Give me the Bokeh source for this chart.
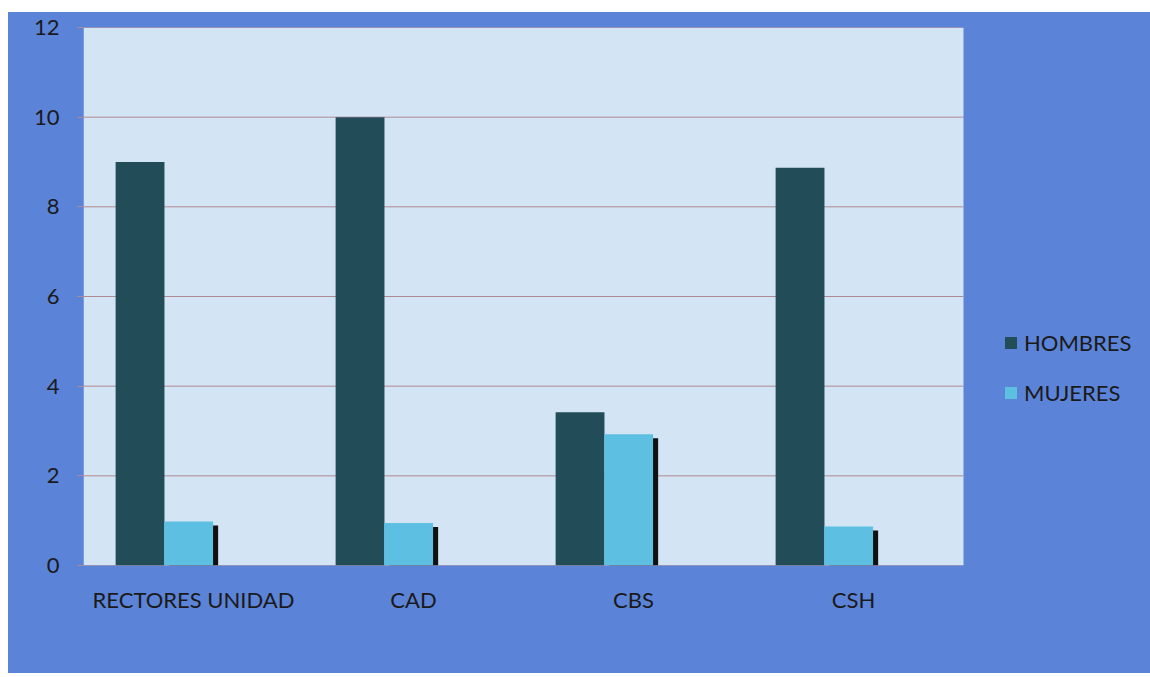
from bokeh.plotting import figure
from bokeh.models import Range1d, FixedTicker, Legend, LegendItem, Spacer, BoxAnnotation
from bokeh.layouts import row, column
from bokeh.embed import file_html
from bokeh.resources import INLINE

categories = ["RECTORES UNIDAD", "CAD", "CBS", "CSH"]
hombres = [9.0, 10.0, 3.42, 8.87]
mujeres = [0.98, 0.95, 2.93, 0.87]
y_ticks = [0, 2, 4, 6, 8, 10, 12]

FONT = "Lato"
OUTER = "#5b83d8"
PLOT_BG = "#d3e4f4"
DARK = "#224c58"
LIGHT = "#5dbfe2"
GRID = "#b08a92"

idx = list(range(len(categories)))
x_lo = -0.5
x_hi = len(categories) - 0.5
# frame extends to the right edge (legend area); 220 px per category
x_frame_hi = x_lo + 1067 / 220

p = figure(width=1142, height=661, x_range=Range1d(x_lo, x_frame_hi),
           y_range=Range1d(0, 12), output_backend="svg", toolbar_location=None,
           min_border_left=75, min_border_right=0, min_border_top=15, min_border_bottom=108)
p.title.visible = False
p.background_fill_color = None
p.border_fill_color = None
p.styles = {"background-color": OUTER}
p.outline_line_color = None

# light plot area
p.add_layout(BoxAnnotation(left=x_lo, right=x_hi, fill_color=PLOT_BG, fill_alpha=1,
                           line_color=None, level="underlay"))

# gridlines across the plot area only
p.segment(x0=[x_lo] * len(y_ticks), x1=[x_hi] * len(y_ticks), y0=y_ticks, y1=y_ticks,
          line_color=GRID, line_width=1)

# bars
x_dark = [i - 0.243 for i in idx]
x_light = [i - 0.022 for i in idx]
x_shadow = [i + 0.001 for i in idx]
shadow_top = [v - 0.09 for v in mujeres]

r_dark = p.vbar(x=x_dark, top=hombres, bottom=0, width=0.222, fill_color=DARK, line_color=None)
p.vbar(x=x_shadow, top=shadow_top, bottom=0, width=0.222, fill_color="#111111", line_color=None)
r_light = p.vbar(x=x_light, top=mujeres, bottom=0, width=0.222, fill_color=LIGHT, line_color=None)

# axes
p.yaxis.ticker = FixedTicker(ticks=y_ticks)
p.yaxis.axis_line_color = None
p.yaxis.major_tick_out = 6
p.yaxis.major_tick_in = 0
p.yaxis.major_tick_line_color = GRID
p.yaxis.minor_tick_line_color = None
p.yaxis.major_label_standoff = 18
p.yaxis.major_label_text_font = FONT
p.yaxis.major_label_text_font_size = "22px"
p.yaxis.major_label_text_color = "#1a1a1a"

p.xaxis.ticker = FixedTicker(ticks=idx)
p.xaxis.major_label_overrides = {i: c for i, c in zip(idx, categories)}
p.xaxis.axis_line_color = None
p.xaxis.major_tick_line_color = None
p.xaxis.minor_tick_line_color = None
p.xaxis.major_label_standoff = 14
p.xaxis.major_label_text_font = FONT
p.xaxis.major_label_text_font_size = "22px"
p.xaxis.major_label_text_color = "#1a1a1a"

p.xgrid.grid_line_color = None
p.ygrid.grid_line_color = None

legend = Legend(items=[LegendItem(label="HOMBRES", renderers=[r_dark]),
                       LegendItem(label="MUJERES", renderers=[r_light])],
                location=(920, 159), orientation="vertical")
legend.background_fill_alpha = 0
legend.border_line_alpha = 0
legend.padding = 0
legend.margin = 0
legend.spacing = 23
legend.glyph_width = 15
legend.glyph_height = 15
legend.label_height = 22
legend.label_standoff = 6
legend.label_text_font = FONT
legend.label_text_font_size = "22px"
legend.label_text_color = "#1a1a1a"
p.add_layout(legend)

layout = row(Spacer(width=8), column(Spacer(height=12), p))
open("out.html", "w").write(file_html(layout, INLINE))
